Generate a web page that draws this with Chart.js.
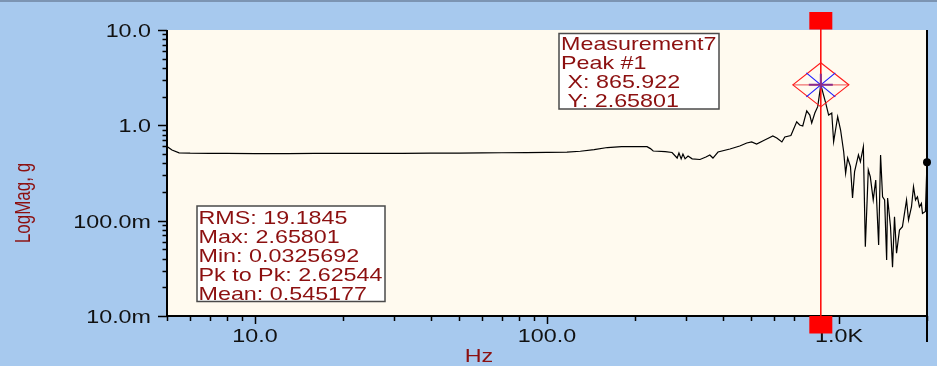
<!DOCTYPE html>
<html>
<head>
<meta charset="utf-8">
<script src="https://cdn.jsdelivr.net/npm/chart.js@4.4.1/dist/chart.umd.min.js"></script>
<style>
  html, body { margin: 0; padding: 0; background: #a7c9ee; }
  #wrap { width: 937px; height: 366px; }
</style>
</head>
<body>
<div id="wrap"><canvas id="specChart" width="937" height="366"></canvas></div>
<script>
// spectrum (Hz, g)
const freqs = [
  5, 5.2, 5.5, 6, 7, 8, 10, 13, 16, 20, 25, 32, 40, 50, 60, 70, 85, 100, 117, 130,
  145, 161, 180, 200, 220, 226, 231, 254, 268, 279, 283, 288, 292, 297, 304, 314,
  334, 350, 361, 370, 385, 423, 457, 483, 502, 522, 552, 579, 593, 612, 637, 652,
  684, 716, 733, 751, 775, 794, 806, 826, 845, 865.922, 900, 921, 944, 958, 989,
  1012, 1037, 1053, 1070, 1094, 1112, 1130, 1165, 1183, 1211, 1230, 1259, 1279,
  1309, 1335, 1366, 1387, 1409, 1432, 1455, 1466, 1500, 1524, 1548, 1573, 1610,
  1648, 1702, 1729, 1770, 1798, 1827, 1855, 1884, 1914, 1930, 1975, 2000
];
const mags = [
  0.60, 0.55, 0.515, 0.51, 0.508, 0.507, 0.506, 0.506, 0.507, 0.507, 0.508, 0.509,
  0.51, 0.512, 0.514, 0.516, 0.518, 0.52, 0.523, 0.535, 0.555, 0.585, 0.597, 0.60,
  0.598, 0.57, 0.538, 0.53, 0.519, 0.454, 0.513, 0.445, 0.50, 0.445, 0.476, 0.445,
  0.438, 0.466, 0.489, 0.454, 0.525, 0.565, 0.607, 0.653, 0.669, 0.637, 0.693,
  0.745, 0.773, 0.736, 0.669, 0.755, 0.782, 1.09, 1.008, 0.984, 1.42, 1.28, 1.058,
  1.346, 1.57, 2.65801, 1.71, 1.28, 1.346, 0.673, 1.233, 0.893, 0.528, 0.314,
  0.454, 0.368, 0.173, 0.327, 0.489, 0.416, 0.597, 0.0533, 0.34, 0.289, 0.165,
  0.267, 0.0556, 0.489, 0.178, 0.165, 0.0387, 0.173, 0.0865, 0.0325692, 0.11,
  0.0455, 0.0798, 0.0865, 0.165, 0.1016, 0.14, 0.227, 0.165, 0.178, 0.14, 0.152,
  0.119, 0.125, 0.41
];

const xTickValues = [10, 100, 1000];
const xTickLabels = ["10.0", "100.0", "1.0K"];
const yTickValues = [10, 1, 0.1, 0.01];
const yTickLabels = ["10.0", "1.0", "100.0m", "10.0m"];

const peakFreq = 865.922;
const peakMag = 2.65801;
const markerLines = ["Measurement7", "Peak #1", " X: 865.922", " Y: 2.65801"];
const statsLines = [
  "RMS: 19.1845",
  "Max: 2.65801",
  "Min: 0.0325692",
  "Pk to Pk: 2.62544",
  "Mean: 0.545177"
];

const DARK_RED = "#8c1010";
const FONT = '18.5px "Liberation Sans", Arial, sans-serif';
const STRETCH = 1.26; // the source screenshot is wider than tall

function wideText(ctx, text, x, y, align) {
  ctx.save();
  ctx.translate(x, y);
  ctx.scale(STRETCH, 1);
  ctx.textAlign = align;
  ctx.textBaseline = "alphabetic";
  ctx.fillText(text, 0, 0);
  ctx.restore();
}

function textBox(ctx, lines, x, y, w, h, tx, firstBase) {
  ctx.save();
  ctx.fillStyle = "#ffffff";
  ctx.fillRect(x, y, w, h);
  ctx.strokeStyle = "#4a4a4a";
  ctx.lineWidth = 1.5;
  ctx.strokeRect(x, y, w, h);
  ctx.fillStyle = DARK_RED;
  ctx.font = FONT;
  lines.forEach((t, i) => wideText(ctx, t, tx, firstBase + i * 19, "left"));
  ctx.restore();
}

const backdrop = {
  id: "backdrop",
  beforeDraw(chart) {
    const { ctx, chartArea: a } = chart;
    ctx.save();
    ctx.fillStyle = "#a7c9ee";
    ctx.fillRect(0, 0, chart.width, chart.height);
    ctx.fillStyle = "#7c94b2";
    ctx.fillRect(0, 0, chart.width, 2);
    ctx.fillStyle = "#fffaef";
    ctx.fillRect(a.left, a.top, a.right - a.left, a.bottom - a.top);
    ctx.restore();
  }
};

const axesAndNotes = {
  id: "axesAndNotes",
  afterDraw(chart) {
    const { ctx, chartArea: a } = chart;
    const xs = chart.scales.x;
    const ys = chart.scales.y;
    ctx.save();

    // axis lines
    ctx.strokeStyle = "#000";
    ctx.lineWidth = 2;
    ctx.beginPath();
    ctx.moveTo(a.left, a.top);
    ctx.lineTo(a.left, a.bottom);
    ctx.lineTo(a.right, a.bottom);
    ctx.stroke();
    ctx.lineWidth = 2;
    ctx.beginPath();
    ctx.moveTo(a.right, a.top);
    ctx.lineTo(a.right, a.bottom + 26);
    ctx.stroke();

    // tick marks (1..9 per decade)
    ctx.lineWidth = 1.5;
    ctx.beginPath();
    for (let d = -2; d <= 3; d++) {
      for (let k = 1; k <= 9; k++) {
        const v = k * Math.pow(10, d);
        if (v >= ys.min - 1e-9 && v <= ys.max + 1e-9) {
          const py = Math.round(ys.getPixelForValue(v)) + 0.5;
          ctx.moveTo(a.left, py);
          ctx.lineTo(a.left - (k === 1 ? 9 : 4.5), py);
        }
        if (v >= xs.min - 1e-9 && v <= xs.max + 1e-9) {
          const px = Math.round(xs.getPixelForValue(v)) + 0.5;
          ctx.moveTo(px, a.bottom);
          ctx.lineTo(px, a.bottom + (k === 1 ? 8 : 5));
        }
      }
    }
    ctx.stroke();

    // tick labels
    ctx.fillStyle = "#111";
    ctx.font = FONT;
    yTickValues.forEach((v, i) => {
      wideText(ctx, yTickLabels[i], a.left - 16, ys.getPixelForValue(v) + 7, "right");
    });
    xTickValues.forEach((v, i) => {
      wideText(ctx, xTickLabels[i], xs.getPixelForValue(v), a.bottom + 25.5, "center");
    });

    // axis titles
    ctx.fillStyle = DARK_RED;
    wideText(ctx, "Hz", 479, 361.5, "center");
    ctx.save();
    ctx.translate(30, 203);
    ctx.scale(STRETCH, 1);
    ctx.rotate(-Math.PI / 2);
    ctx.font = '17px "Liberation Sans", Arial, sans-serif';
    ctx.textAlign = "center";
    ctx.fillText("LogMag, g", 0, 0);
    ctx.restore();

    // peak cursor
    const cx = xs.getPixelForValue(peakFreq);
    const cy = ys.getPixelForValue(peakMag);
    ctx.strokeStyle = "#ff0000";
    ctx.lineWidth = 1.5;
    ctx.beginPath();
    ctx.moveTo(cx, 14);
    ctx.lineTo(cx, a.bottom + 16);
    ctx.stroke();
    ctx.fillStyle = "#ff0000";
    ctx.fillRect(cx - 11.5, 12, 23, 17.5);
    ctx.fillRect(cx - 11.5, a.bottom, 23, 17.5);

    // diamond marker
    ctx.lineWidth = 1.2;
    ctx.strokeStyle = "#f07070";
    ctx.beginPath();
    ctx.moveTo(cx - 28, cy);
    ctx.lineTo(cx + 28, cy);
    ctx.stroke();
    ctx.strokeStyle = "#ff1a1a";
    ctx.beginPath();
    ctx.moveTo(cx - 28, cy);
    ctx.lineTo(cx, cy - 22);
    ctx.lineTo(cx + 28, cy);
    ctx.lineTo(cx, cy + 22);
    ctx.closePath();
    ctx.stroke();
    ctx.strokeStyle = "#2020ff";
    ctx.beginPath();
    ctx.moveTo(cx - 14.5, cy - 12);
    ctx.lineTo(cx + 14.5, cy + 12);
    ctx.moveTo(cx - 14.5, cy + 12);
    ctx.lineTo(cx + 14.5, cy - 12);
    ctx.stroke();
    ctx.strokeStyle = "#8a2c8a";
    ctx.lineWidth = 2;
    ctx.beginPath();
    ctx.moveTo(cx - 12, cy);
    ctx.lineTo(cx + 12, cy);
    ctx.moveTo(cx, cy - 11);
    ctx.lineTo(cx, cy + 4);
    ctx.stroke();

    // annotation boxes
    textBox(ctx, markerLines, 559, 33.5, 160, 75.5, 561, 50);
    textBox(ctx, statsLines, 197, 206, 188, 95.5, 198.5, 224);

    ctx.restore();
  }
};

document.addEventListener("DOMContentLoaded", function () {
  const ctx = document.getElementById("specChart");
  const lastIdx = freqs.length - 1;
  new Chart(ctx, {
    type: "line",
    data: {
      datasets: [
        {
          label: "Measurement7",
          data: freqs.map((f, i) => ({ x: f, y: mags[i] })),
          borderColor: "#000000",
          borderWidth: 1.2,
          tension: 0,
          fill: false,
          clip: false,
          pointRadius: (c) => (c.dataIndex === lastIdx ? 4 : 0),
          pointBackgroundColor: "#000000",
          pointBorderWidth: 0,
        },
      ],
    },
    options: {
      responsive: false,
      animation: false,
      events: [],
      layout: {
        padding: { left: 167, right: 10, top: 30, bottom: 50 },
      },
      plugins: {
        legend: { display: false },
        tooltip: { enabled: false },
      },
      scales: {
        x: { type: "logarithmic", min: 5, max: 2000, display: false },
        y: { type: "logarithmic", min: 0.01, max: 10, display: false },
      },
    },
    plugins: [backdrop, axesAndNotes],
  });
});
</script>
</body>
</html>
